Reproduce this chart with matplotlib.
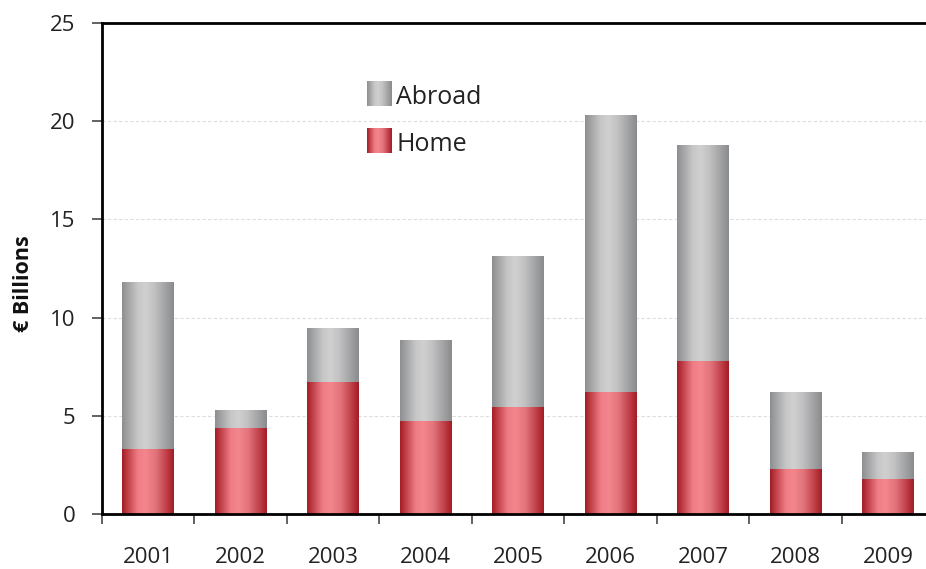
import numpy as np
import matplotlib
matplotlib.use("Agg")
import matplotlib.pyplot as plt
from matplotlib.colors import LinearSegmentedColormap

years = ['2001', '2002', '2003', '2004', '2005', '2006', '2007', '2008', '2009']
home = [3.31, 4.38, 6.72, 4.74, 5.45, 6.21, 7.79, 2.29, 1.78]
total = [11.77, 5.25, 9.42, 8.86, 13.09, 20.27, 18.75, 6.16, 3.11]
abroad = [t - h for t, h in zip(total, home)]

plt.rcParams['font.family'] = ['Open Sans', 'DejaVu Sans']

# horizontal shading like the original bars
gray_cmap = LinearSegmentedColormap.from_list('gray_bar', [
    (0.0, '#8d8e90'), (0.3, '#c6c6c7'), (0.45, '#d0d0d0'),
    (0.62, '#c2c2c3'), (1.0, '#8a8b8d')])
red_cmap = LinearSegmentedColormap.from_list('red_bar', [
    (0.0, '#a51c25'), (0.3, '#ee7c85'), (0.45, '#f4868e'),
    (0.65, '#e2737b'), (0.85, '#c0414a'), (1.0, '#a41b24')])
grad = np.linspace(0, 1, 256).reshape(1, -1)

fig = plt.figure(figsize=(9.26, 5.69), dpi=100)
ax = fig.add_axes([0.1099, 0.0967, 0.899, 0.8629])

x = np.arange(len(years))
width = 0.56
home_bars = ax.bar(x, home, width, color='none', edgecolor='none', label='Home')
abroad_bars = ax.bar(x, abroad, width, bottom=home, color='none', edgecolor='none', label='Abroad')

for bars, cmap in [(home_bars, red_cmap), (abroad_bars, gray_cmap)]:
    for p in bars:
        x0, y0 = p.get_x(), p.get_y()
        ax.imshow(grad, cmap=cmap, aspect='auto', interpolation='bilinear',
                  extent=[x0, x0 + p.get_width(), y0, y0 + p.get_height()], zorder=2)

ax.set_xlim(-0.5, len(years) - 0.5)
ax.set_ylim(0, 25)
ax.set_yticks([0, 5, 10, 15, 20, 25])
ax.set_xticks(x)
ax.set_xticklabels(years)
ax.set_xticks(np.arange(-0.5, len(years), 1), minor=True)
ax.tick_params(axis='x', which='major', length=0, pad=24, labelsize=16, labelcolor='#222222')
ax.tick_params(axis='x', which='minor', length=7, width=1.3, color='#555555', direction='out')
ax.tick_params(axis='y', length=7, width=1.3, color='#555555', pad=12, labelsize=16, labelcolor='#222222')

ax.grid(axis='y', linestyle=(0, (3, 2)), color='#dddddd', linewidth=0.8)
ax.set_axisbelow(True)

for side in ['left', 'top', 'bottom', 'right']:
    ax.spines[side].set_color('black')
    ax.spines[side].set_linewidth(2.0)

ax.set_ylabel('€ Billions', fontsize=15.5, fontweight='bold', color='#111111')
ax.yaxis.set_label_coords(-0.082, 0.47)

# legend drawn by hand so the swatches keep the shading
for (label, cmap, y0) in [('Abroad', gray_cmap, 0.831), ('Home', red_cmap, 0.735)]:
    sw = ax.inset_axes([0.3187, y0, 0.030, 0.051])
    sw.imshow(grad, cmap=cmap, aspect='auto', interpolation='bilinear')
    sw.axis('off')
    ax.text(0.354, y0 + 0.018, label, transform=ax.transAxes, fontsize=18,
            va='center', ha='left', color='#222222')

fig.savefig('out.png', dpi=100)
